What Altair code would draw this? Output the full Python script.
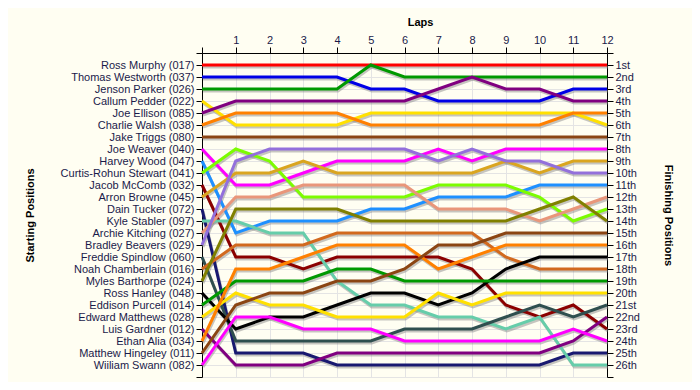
import json
import altair as alt
import pandas as pd

drivers = [
    "Ross Murphy (017)", "Thomas Westworth (037)", "Jenson Parker (026)",
    "Callum Pedder (022)", "Joe Ellison (085)", "Charlie Walsh (038)",
    "Jake Triggs (080)", "Joe Weaver (040)", "Harvey Wood (047)",
    "Curtis-Rohun Stewart (041)", "Jacob McComb (032)", "Arron Browne (045)",
    "Dain Tucker (072)", "Kyle Stabler (097)", "Archie Kitching (027)",
    "Bradley Beavers (029)", "Freddie Spindlow (060)", "Noah Chamberlain (016)",
    "Myles Barthorpe (024)", "Ross Hanley (048)", "Eddison Purcell (014)",
    "Edward Matthews (028)", "Luis Gardner (012)", "Ethan Alia (034)",
    "Matthew Hingeley (011)", "Wiiliam Swann (082)",
]

colors = [
    "#ff0000", "#0000e6", "#009900", "#ffe000", "#800080", "#ff8000",
    "#8b4513", "#ff00ff", "#1e90ff", "#7cfc00", "#8b0000", "#daa520",
    "#191970", "#66cdaa", "#e9967a", "#9370db", "#2f4f4f", "#d2691e",
    "#808000", "#000000", "#009900", "#ffe000", "#800080", "#ff8000",
    "#8b4513", "#ff00ff",
]

laps = list(range(13))
lap_labels = [""] + [str(v) for v in range(1, 13)]

positions = [
    [1, 1, 1, 1, 1, 1, 1, 1, 1, 1, 1, 1, 1],
    [2, 2, 2, 2, 2, 3, 3, 4, 4, 4, 4, 3, 3],
    [3, 3, 3, 3, 3, 1, 2, 2, 2, 2, 2, 2, 2],
    [4, 6, 6, 6, 6, 5, 5, 5, 5, 5, 5, 5, 6],
    [5, 4, 4, 4, 4, 4, 4, 3, 2, 3, 3, 4, 4],
    [6, 5, 5, 5, 5, 6, 6, 6, 6, 6, 6, 5, 5],
    [7, 7, 7, 7, 7, 7, 7, 7, 7, 7, 7, 7, 7],
    [8, 11, 11, 10, 9, 9, 9, 8, 9, 8, 8, 8, 8],
    [9, 15, 14, 14, 14, 13, 13, 12, 12, 12, 11, 11, 11],
    [10, 8, 9, 12, 12, 12, 12, 11, 11, 11, 12, 14, 13],
    [11, 17, 17, 18, 17, 17, 17, 17, 18, 21, 22, 21, 23],
    [12, 10, 10, 9, 10, 10, 10, 10, 10, 9, 10, 9, 9],
    [13, 25, 25, 25, 26, 26, 26, 26, 26, 26, 26, 25, 25],
    [14, 14, 15, 15, 19, 21, 21, 22, 22, 23, 22, 26, 26],
    [15, 12, 12, 11, 11, 11, 11, 13, 13, 13, 14, 13, 12],
    [16, 9, 8, 8, 8, 8, 8, 9, 8, 9, 9, 10, 10],
    [17, 24, 24, 24, 24, 24, 23, 23, 23, 22, 21, 22, 21],
    [18, 16, 16, 16, 15, 15, 15, 15, 15, 17, 18, 18, 18],
    [19, 13, 13, 13, 13, 14, 14, 14, 14, 14, 13, 12, 14],
    [20, 23, 22, 22, 21, 20, 20, 21, 20, 18, 17, 17, 17],
    [21, 19, 19, 19, 18, 18, 19, 19, 19, 19, 19, 19, 19],
    [22, 20, 21, 21, 22, 22, 22, 20, 21, 20, 20, 20, 20],
    [23, 26, 26, 26, 25, 25, 25, 25, 25, 25, 25, 24, 22],
    [24, 18, 18, 17, 16, 16, 16, 18, 17, 16, 16, 16, 16],
    [25, 21, 20, 20, 19, 19, 18, 16, 16, 15, 15, 15, 15],
    [26, 22, 22, 23, 23, 23, 24, 24, 24, 24, 24, 23, 24],
]

ordinals = [
    "1st", "2nd", "3rd", "4th", "5th", "6th", "7th", "8th", "9th", "10th",
    "11th", "12th", "13th", "14th", "15th", "16th", "17th", "18th", "19th",
    "20th", "21st", "22nd", "23rd", "24th", "25th", "26th",
]

rows = []
for i, (d, pos) in enumerate(zip(drivers, positions)):
    for lap, p in zip(laps, pos):
        rows.append({"driver": d, "idx": i, "lap": lap, "pos": p})
df = pd.DataFrame(rows)

left_labels = json.dumps([""] + drivers + [""])
right_labels = json.dumps([""] + ordinals + [""])
top_labels = json.dumps(lap_labels)

BG = "#fffef2"
LABEL_C = "#1a1a4a"
FONT = "Liberation Sans"

xscale = alt.Scale(domain=[0, 12], nice=False, zero=False)
yscale = alt.Scale(domain=[0, 27], reverse=True, nice=False, zero=False)

xaxis = alt.Axis(
    orient="top", values=laps,
    labelExpr=f"{top_labels}[datum.value]",
    grid=True, gridColor="#e4e4e4", domainColor="black",
    tickColor="black", tickSize=6, labelPadding=2,
    labelColor=LABEL_C, labelFont=FONT, labelFontSize=11, labelFlush=False,
    title="Laps", titleFont=FONT, titleFontSize=11, titleFontWeight="bold",
    titleColor="black", titleX=218, titleY=-31,
    titleAlign="center", titleBaseline="middle",
)

shadow = alt.Chart(df).mark_line(
    color="#808080", opacity=0.45, strokeWidth=3, xOffset=1, yOffset=2
).encode(
    x=alt.X("lap:Q", scale=xscale, axis=xaxis),
    y=alt.Y(
        "pos:Q", scale=yscale,
        axis=alt.Axis(
            orient="right", values=list(range(28)),
            labelExpr=f"{right_labels}[datum.value]",
            grid=False, domainColor="black", tickColor="black", tickSize=6,
            labelColor=LABEL_C, labelFont=FONT, labelFontSize=11, labelPadding=2,
            title="Finishing Positions", titleFont=FONT, titleFontSize=11,
            titleFontWeight="bold", titleColor="black", titleAngle=90,
            titleX=60, titleY=162, titleAlign="center", titleBaseline="middle",
        ),
    ),
    detail="idx:N",
)

lines = alt.Chart(df).mark_line(strokeWidth=3).encode(
    x=alt.X("lap:Q", scale=xscale, axis=xaxis),
    y=alt.Y(
        "pos:Q", scale=yscale,
        axis=alt.Axis(
            orient="left", values=list(range(28)),
            labelExpr=f"{left_labels}[datum.value]",
            grid=True, gridColor="#e4e4e4", domainColor="black",
            tickColor="black", tickSize=6, labelPadding=2,
            labelColor=LABEL_C, labelFont=FONT, labelFontSize=11,
            title="Starting Positions", titleFont=FONT, titleFontSize=11,
            titleFontWeight="bold", titleColor="black", titleAngle=-90,
            titleX=-172, titleY=162, titleAlign="center", titleBaseline="middle",
        ),
    ),
    color=alt.Color(
        "driver:N", scale=alt.Scale(domain=drivers, range=colors), legend=None
    ),
    order="lap:Q",
    detail="idx:N",
)

chart = alt.layer(shadow, lines).resolve_axis(y="independent").properties(
    width=405, height=324,
    autosize=alt.AutoSizeParams(type="none"),
    padding={"left": 194, "top": 45, "right": 85, "bottom": 5},
    background=BG,
).configure_view(stroke=None, fill=BG)

chart.save("out.html", embed_options={"renderer": "svg", "actions": False})
